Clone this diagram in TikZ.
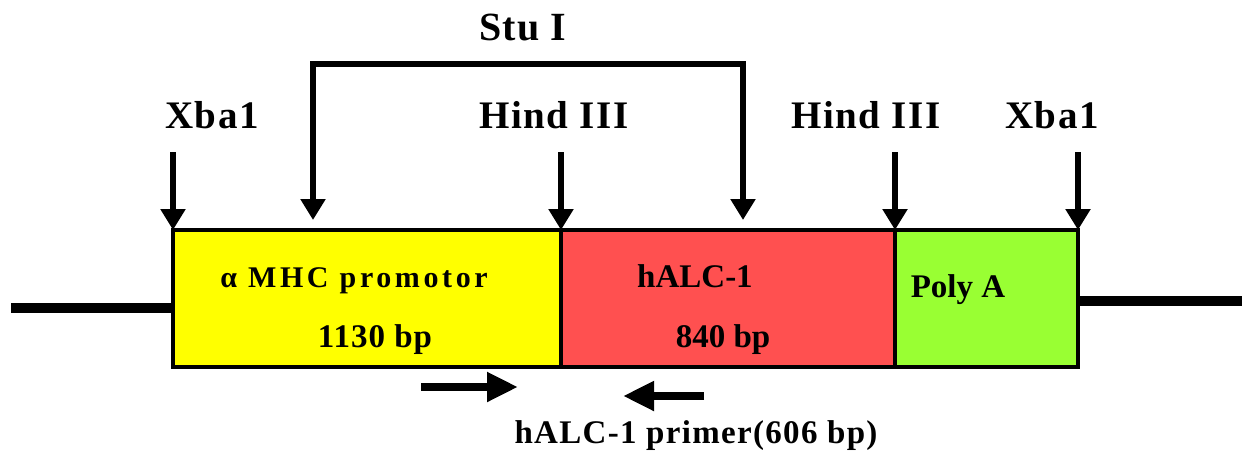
\documentclass[tikz,border=0pt]{standalone}
\usepackage{fontspec}
\setmainfont{Liberation Serif}
\usetikzlibrary{arrows.meta}
\newfontfamily\lblfont[LetterSpace=4]{Liberation Serif}
\newfontfamily\boxfont[LetterSpace=12]{Liberation Serif}
\newfontfamily\midfont[LetterSpace=3]{Liberation Serif}
\definecolor{promY}{HTML}{FFFF00}
\definecolor{alcR}{HTML}{FF5050}
\definecolor{polyG}{HTML}{99FF33}
\tikzset{
  seg/.style={draw=black, line width=4pt, inner sep=0pt, outer sep=0pt, minimum height=137pt},
  site/.style={line width=6pt, -{Triangle[width=24pt,length=21pt]}, line join=miter},
  primer/.style={line width=8pt, -{Triangle[width=28pt,length=31pt]}},
  dna/.style={line width=9.5pt},
  lbl/.style={anchor=base, inner sep=0pt, font=\lblfont\bfseries\fontsize{39}{42}\selectfont},
  intext/.style={anchor=base, inner sep=0pt, font=\bfseries\fontsize{33}{36}\selectfont}
}
\begin{document}
\begin{tikzpicture}[x=1pt,y=-1pt]
\useasboundingbox (0,0) rectangle (1242,450);
% boxes
\node[seg, fill=promY, minimum width=388pt] (prom) at (367,298.5) {};
\node[seg, fill=alcR, minimum width=334pt] (alc) at (728,298.5) {};
\node[seg, fill=polyG, minimum width=183pt] (poly) at (986.5,298.5) {};
% DNA lines
\coordinate (dnaL) at (11,308);
\coordinate (dnaR) at (1242,301);
\draw[dna] (dnaL) -- (dnaL -| prom.west);
\draw[dna] (dnaR -| poly.east) -- (dnaR);
% restriction sites
\coordinate (xbaA) at (173,152);
\coordinate (hinA) at (561,152);
\coordinate (hinB) at (895,152);
\coordinate (xbaB) at (1078,152);
\draw[site] (xbaA) -- (prom.north west);
\draw[site] (hinA) -- (prom.north east);
\draw[site] (hinB) -- (alc.north east);
\draw[site] (xbaB) -- (poly.north east);
\coordinate (stuL) at (313,220);
\coordinate (stuR) at (743,220);
\coordinate (stuTL) at (313,64);
\coordinate (stuTR) at (743,64);
\draw[site, {Triangle[width=24pt,length=21pt]}-{Triangle[width=24pt,length=21pt]}] (stuL) -- (stuTL) -- (stuTR) -- (stuR);
% labels
\node[lbl] (lxA) at (212,128) {Xba1};
\node[lbl] (lhA) at (554,128) {Hind III};
\node[lbl] (lhB) at (866,128) {Hind III};
\node[lbl] (lxB) at (1052,128) {Xba1};
\node[lbl, font=\midfont\bfseries\fontsize{40}{42}\selectfont] (lstu) at (523,40) {Stu I};
% box texts
\node[anchor=base, inner sep=0pt, font=\boxfont\bfseries\fontsize{30}{33}\selectfont] (tprom) at (354,287) {α MHC promotor};
\node[intext, font=\midfont\bfseries\fontsize{33}{36}\selectfont] (tbp1) at (375,347) {1130 bp};
\node[intext] (talc) at (695,287) {hALC-1};
\node[intext] (tbp2) at (723,347) {840 bp};
\node[intext] (tpoly) at (958,297) {Poly A};
% primers
\coordinate (pfA) at (421,387);
\coordinate (pfB) at (518,387);
\coordinate (prA) at (704,396);
\coordinate (prB) at (623,396);
\draw[primer] (pfA) -- (pfB);
\draw[primer] (prA) -- (prB);
\node[anchor=base, inner sep=0pt, font=\lblfont\bfseries\fontsize{33}{36}\selectfont] (tprimer) at (696,443) {hALC-1 primer(606 bp)};
\end{tikzpicture}
\end{document}
